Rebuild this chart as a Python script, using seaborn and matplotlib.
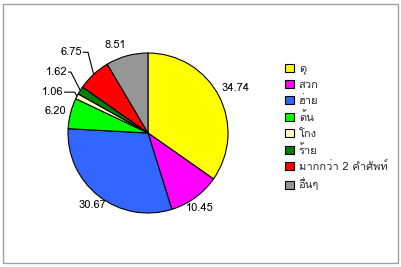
import numpy as np
import matplotlib
matplotlib.use("Agg")
import matplotlib.pyplot as plt
import seaborn as sns
from matplotlib import font_manager
from matplotlib.ft2font import FT2Font
from matplotlib.patches import Rectangle, Patch

categories = ["ดุ", "สวก", "ฮ่าย", "ด้น", "โกง", "ร้าย", "มากกว่า 2 คำศัพท์", "อื่นๆ"]
values = [34.74, 10.45, 30.67, 6.20, 1.06, 1.62, 6.75, 8.51]
value_labels = ["34.74", "10.45", "30.67", "6.20", "1.06", "1.62", "6.75", "8.51"]
colors = ["#FFFF00", "#FF00FF", "#3366FF", "#00FF00", "#FFFFC0", "#008000", "#FF0000", "#969696"]

sns.set_style("white")

# find a font with Thai glyphs
thai_family = None
for f in font_manager.fontManager.ttflist:
    try:
        cm = FT2Font(f.fname).get_charmap()
        if 0x0E14 in cm and 0x0E38 in cm:
            thai_family = f.name
            break
    except Exception:
        pass
fams = ([thai_family] if thai_family else []) + ["DejaVu Sans"]
plt.rcParams["font.family"] = fams

W, H = 402, 267
fig = plt.figure(figsize=(W / 100, H / 100), dpi=100)
fig.patch.set_facecolor("white")
fig.add_artist(Rectangle((3 / W, 4 / H), (W - 7) / W, (H - 8) / H, transform=fig.transFigure,
                         fill=False, edgecolor="#A0A0A0", linewidth=1))

cx, cy, R = 148, 133, 80
ax = fig.add_axes([(cx - R) / W, (H - cy - R) / H, 2 * R / W, 2 * R / H])
wedges, _ = ax.pie(values, colors=colors, startangle=90, counterclock=False,
                   wedgeprops=dict(edgecolor="black", linewidth=0.8))
ax.set_xlim(-1, 1)
ax.set_ylim(-1, 1)
ax.set_aspect("equal")
ax.axis("off")

# label placement: (radial distance, angle shift deg, leader elbow length or None)
place = [(1.234, -0.5, None), (1.143, -1.4, None), (1.134, 0.4, None), (1.192, 1.0, None),
         (1.176, 1.6, 0.13), (1.264, -4.9, 0.03), (1.304, -3.5, 0.06), (1.174, 5.0, None)]
for w, lab, (d, sh, elbow) in zip(wedges, value_labels, place):
    ang = np.deg2rad((w.theta1 + w.theta2) / 2)
    ex, ey = np.cos(ang), np.sin(ang)
    a2 = ang + np.deg2rad(sh)
    tx, ty = d * np.cos(a2), d * np.sin(a2)
    if elbow is not None:
        ax.text(tx, ty, lab, ha="right", va="center", fontsize=8, color="black", clip_on=False)
        x0 = tx + 0.015
        ax.plot([x0, x0 + elbow, ex], [ty, ty, ey], color="black", lw=0.8, clip_on=False)
    else:
        ax.text(tx, ty, lab, ha="center", va="center", fontsize=8, color="black", clip_on=False)

handles = [Patch(facecolor=c, edgecolor="black", linewidth=0.8) for c in colors]
fig.legend(handles, categories, loc="upper left", bbox_to_anchor=(281 / W, 1 - 59 / H),
           frameon=False, fontsize=8, handlelength=0.75, handleheight=0.75,
           handletextpad=0.45, labelspacing=0.48, borderaxespad=0)

fig.savefig("out.png", dpi=100, facecolor="white")
